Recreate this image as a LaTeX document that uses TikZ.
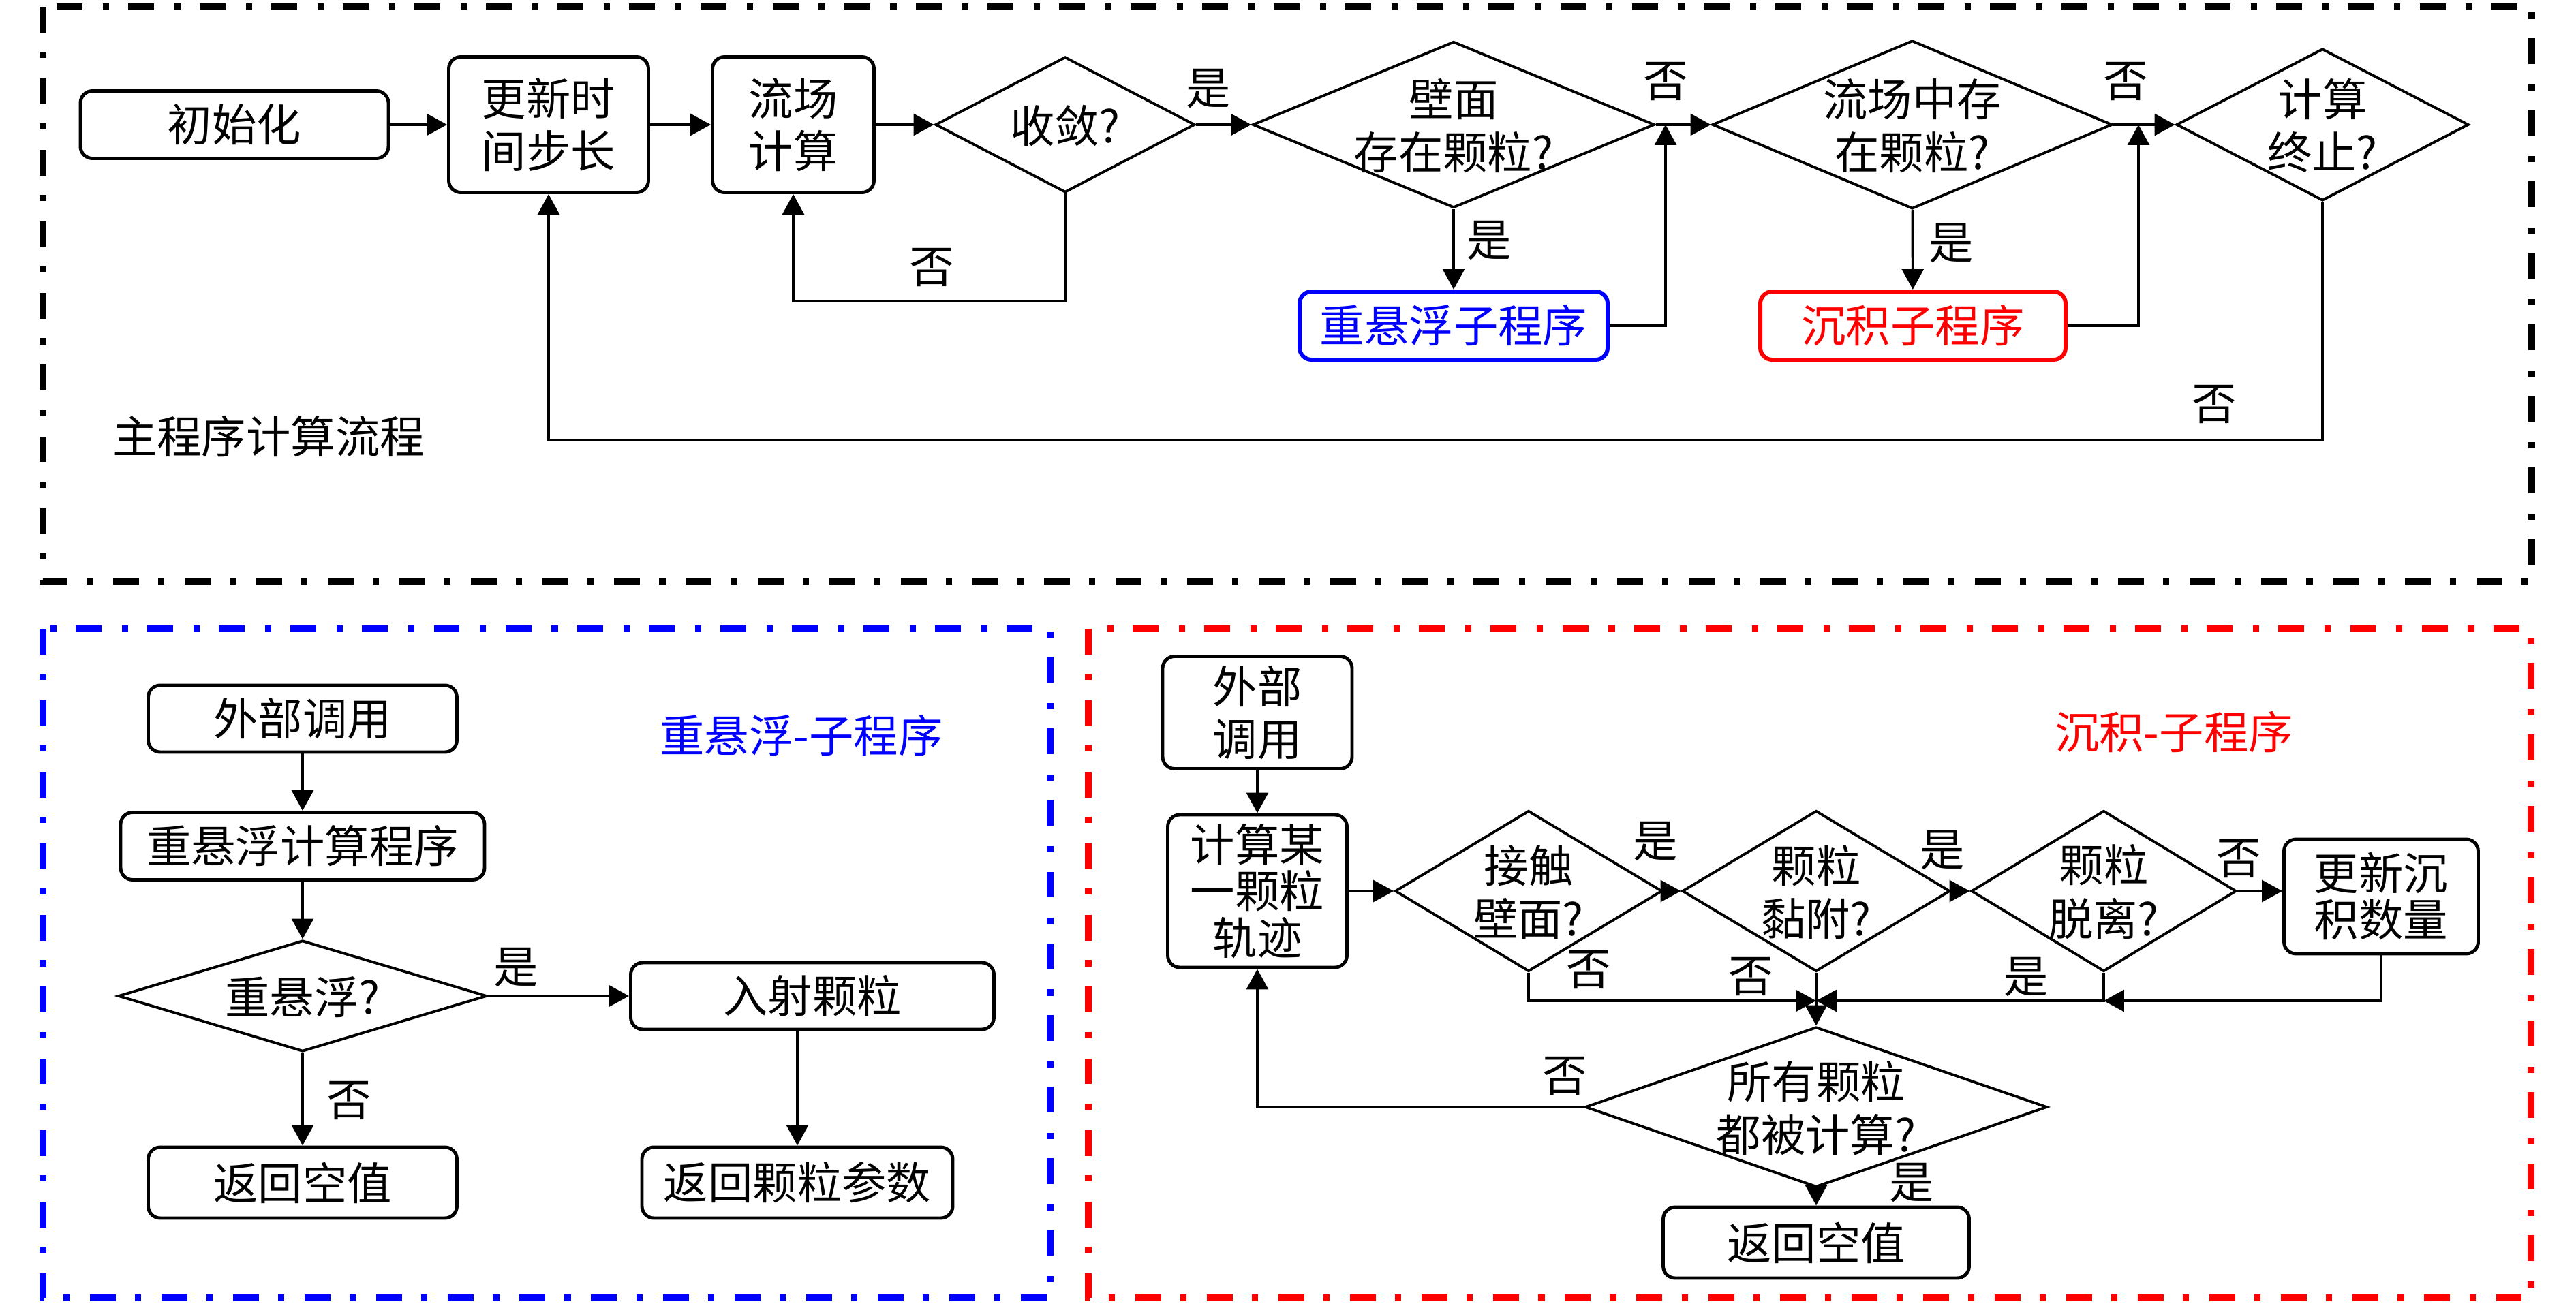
\documentclass[tikz,border=0pt]{standalone}
\usepackage{fontspec}
\newfontfamily\cjk{Noto Sans CJK SC}
\usetikzlibrary{shapes.geometric,arrows.meta,positioning,calc}
% diamond text: zero size so the diamond keeps its given size
\newcommand{\ztext}[1]{\raisebox{-0.39em}[0pt][0pt]{\makebox[0pt]{\begin{tabular}{@{}c@{}}#1\end{tabular}}}}

\begin{document}
\begin{tikzpicture}[
  every node/.style={font=\cjk\fontsize{18.6}{22}\selectfont},
  box/.style={draw, rounded corners=5pt, line width=1.4pt, align=center, inner sep=0pt},
  dia/.style={draw, diamond, line width=1.1pt, inner sep=0pt},
  arr/.style={-{Triangle[length=8.5pt,width=9pt]}, line width=1.1pt},
  frame/.style={line width=2.6pt, dash pattern=on 10.8pt off 8pt on 2.6pt off 8.5pt},
  tight/.style={font=\cjk\fontsize{18.6}{19.4}\selectfont}]
\useasboundingbox (0,0) rectangle (37.8,-19.2);

% frames
\draw[frame] (0.63,-0.10) rectangle (37.15,-8.53);
\draw[frame, blue] (0.63,-9.23) rectangle (15.41,-19.05);
\draw[frame, red] (15.97,-9.23) rectangle (37.14,-19.05);

% main program
\node[box, minimum width=4.52cm, minimum height=0.99cm] (init) at (3.44,-1.83) {初始化};
\node[box, minimum width=2.93cm, minimum height=1.99cm] (upd) at (8.05,-1.83) {更新时\\间步长};
\node[box, minimum width=2.37cm, minimum height=1.99cm] (flow) at (11.64,-1.83) {流场\\计算};
\node[dia, minimum width=3.81cm, minimum height=1.99cm] (conv) at (15.63,-1.83) {\ztext{收敛?}};
\node[dia, minimum width=5.90cm, minimum height=2.44cm] (wall) at (21.33,-1.83) {\ztext{壁面\\存在颗粒?}};
\node[dia, minimum width=5.87cm, minimum height=2.47cm] (infl) at (28.06,-1.83) {\ztext{流场中存\\在颗粒?}};
\node[dia, minimum width=4.29cm, minimum height=2.23cm] (stop) at (34.08,-1.83) {\ztext{计算\\终止?}};
\node[box, draw=blue, text=blue, line width=1.7pt, minimum width=4.52cm, minimum height=1.00cm] (resus) at (21.33,-4.78) {重悬浮子程序};
\node[box, draw=red, text=red, line width=1.7pt, minimum width=4.48cm, minimum height=1.00cm] (depo) at (28.07,-4.78) {沉积子程序};
\coordinate (j1) at (24.44,-1.83);
\coordinate (j2) at (31.38,-1.83);
\coordinate (loopa) at (0,-4.42);
\coordinate (loopb) at (0,-6.46);

\draw[arr] (init) -- (upd);
\draw[arr] (upd) -- (flow);
\draw[arr] (flow) -- (conv);
\draw[arr] (conv) -- (wall);
\draw[arr] (wall) -- (infl);
\draw[arr] (infl) -- (stop);
\draw[arr] (wall) -- (resus);
\draw[arr] (infl) -- (depo);
\draw[arr] (resus.east) -| (j1);
\draw[arr] (depo.east) -| (j2);
\draw[arr] (conv.south) -- (conv.south |- loopa) -| (flow.south);
\draw[arr] (stop.south) -- (stop.south |- loopb) -| (upd.south);

\node (y1) at (17.73,-1.30) {是};
\node (n1) at (24.44,-1.20) {否};
\node (n2) at (31.19,-1.20) {否};
\node (y2) at (21.85,-3.53) {是};
\node (y3) at (28.63,-3.57) {是};
\node (n3) at (13.67,-3.93) {否};
\node (n4) at (32.49,-5.94) {否};
\node (mainlab) at (3.94,-6.41) {主程序计算流程};

% resuspension subprogram
\node[box, minimum width=4.53cm, minimum height=0.98cm] (bcall) at (4.44,-10.55) {外部调用};
\node[box, minimum width=5.34cm, minimum height=0.99cm] (bcalc) at (4.44,-12.42) {重悬浮计算程序};
\node[dia, minimum width=5.41cm, minimum height=1.63cm] (bdec) at (4.44,-14.62) {\ztext{重悬浮?}};
\node[box, minimum width=5.33cm, minimum height=0.98cm] (binc) at (11.92,-14.62) {入射颗粒};
\node[box, minimum width=4.53cm, minimum height=1.04cm] (bnull) at (4.44,-17.36) {返回空值};
\node[box, minimum width=4.56cm, minimum height=1.04cm] (bret) at (11.70,-17.36) {返回颗粒参数};
\node[text=blue] (blab) at (11.76,-10.80) {重悬浮-子程序};

\draw[arr] (bcall) -- (bcalc);
\draw[arr] (bcalc) -- (bdec);
\draw[arr] (bdec) -- (binc);
\draw[arr] (bdec) -- (bnull);
\draw[arr] (bret.north |- binc.south) -- (bret.north);
\node (by) at (7.57,-14.20) {是};
\node (bn) at (5.12,-16.16) {否};

% deposition subprogram
\node[box, minimum width=2.78cm, minimum height=1.65cm] (rcall) at (18.45,-10.46) {外部\\调用};
\node[box, tight, minimum width=2.63cm, minimum height=2.24cm] (rtraj) at (18.45,-13.08) {计算某\\一颗粒\\轨迹};
\node[dia, minimum width=3.92cm, minimum height=2.36cm] (rcont) at (22.43,-13.08) {\ztext{接触\\壁面?}};
\node[dia, minimum width=3.93cm, minimum height=2.36cm] (rstick) at (26.65,-13.08) {\ztext{颗粒\\黏附?}};
\node[dia, minimum width=3.89cm, minimum height=2.36cm] (rdet) at (30.87,-13.08) {\ztext{颗粒\\脱离?}};
\node[box, tight, minimum width=2.85cm, minimum height=1.68cm] (rupd) at (34.94,-13.16) {更新沉\\积数量};
\node[dia, minimum width=6.78cm, minimum height=2.35cm] (rall) at (26.65,-16.25) {\ztext{所有颗粒\\都被计算?}};
\node[box, minimum width=4.49cm, minimum height=1.04cm] (rnull) at (26.65,-18.24) {返回空值};
\node[text=red] (rlab) at (31.90,-10.75) {沉积-子程序};
\coordinate (jc) at (26.65,-14.69);

\draw[arr] (rcall) -- (rtraj);
\draw[arr] (rtraj.east |- rcont.west) -- (rcont.west);
\draw[arr] (rcont) -- (rstick);
\draw[arr] (rstick) -- (rdet);
\draw[arr] (rdet.east) -- (rdet.east -| rupd.west);
\draw[arr] (rcont.south) |- (jc);
\draw[arr] (rstick) -- (rall);
\draw[arr] (rdet.south) |- (jc);
\draw[arr] (rupd.south) |- (rdet.south |- jc);
\draw[arr] (rall.west) -| (rtraj.south);
\draw[arr] (rall) -- (rnull);
\node (ry1) at (24.29,-12.35) {是};
\node (ry2) at (28.50,-12.48) {是};
\node (rn1) at (32.85,-12.61) {否};
\node (rn2) at (23.31,-14.24) {否};
\node (rn3) at (25.69,-14.34) {否};
\node (ry3) at (29.73,-14.34) {是};
\node (rn4) at (22.96,-15.80) {否};
\node (ry4) at (28.05,-17.36) {是};
\end{tikzpicture}
\end{document}
